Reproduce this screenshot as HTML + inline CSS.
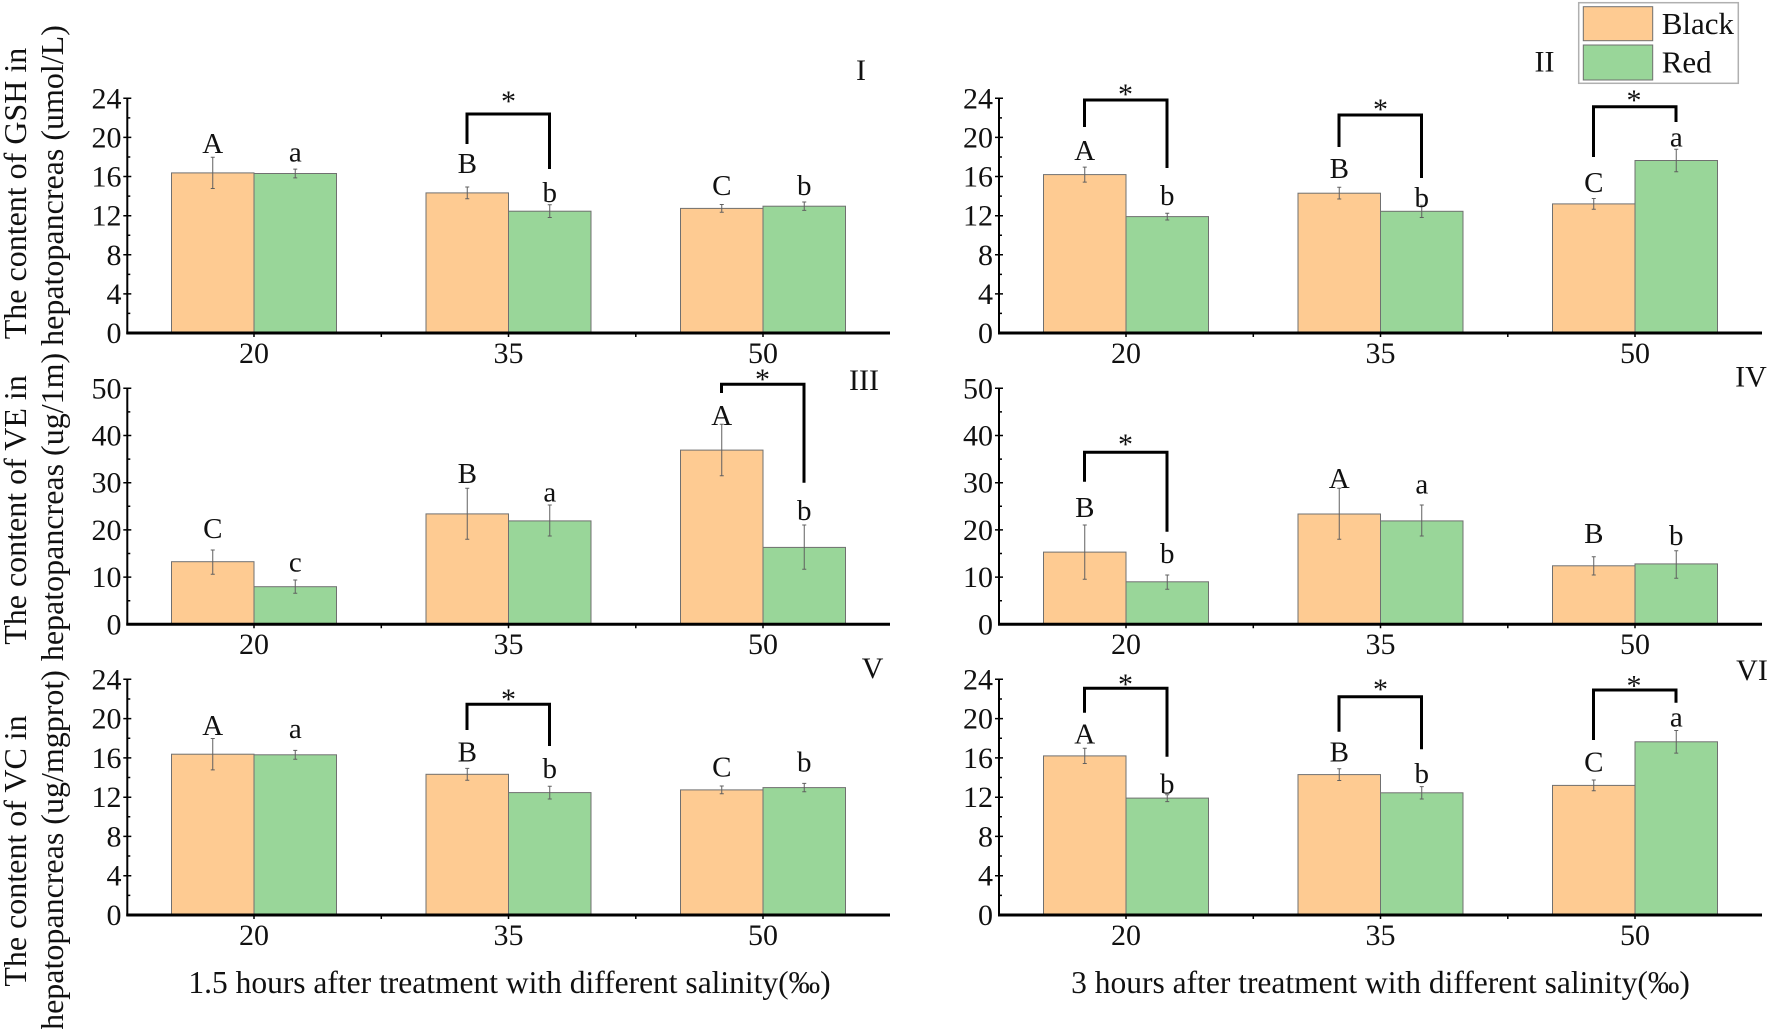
<!DOCTYPE html>
<html><head><meta charset="utf-8"><style>
html,body{margin:0;padding:0;background:#fff;}
svg{display:block;}
text{font-family:"Liberation Serif","Times New Roman",serif;fill:#111;}
.t{font-size:30px;}
.lb{font-size:29px;text-anchor:middle;}
.st{font-size:30px;text-anchor:middle;}
.yt{font-size:30px;text-anchor:end;}
.xt{font-size:30px;text-anchor:middle;}
.rn{font-size:30px;text-anchor:middle;}
.ttl{font-size:32px;text-anchor:middle;}
.xtl{font-size:31.5px;text-anchor:middle;}
.bk{fill:#fecb92;stroke:#707070;stroke-width:1;}
.gr{fill:#99d699;stroke:#707070;stroke-width:1;}
.eb{stroke:#606060;stroke-width:1;fill:none;}
.br{stroke:#000;stroke-width:3;fill:none;}
.ax{stroke:#000;fill:none;}
</style></head><body>
<svg width="1772" height="1029" viewBox="0 0 1772 1029" xmlns="http://www.w3.org/2000/svg">
<rect x="0" y="0" width="1772" height="1029" fill="#fff"/>

<!-- Y titles -->
<text class="ttl" transform="translate(26,193.5) rotate(-90)">The content of GSH in</text>
<text class="ttl" transform="translate(63,185.5) rotate(-90)">hepatopancreas (umol/L)</text>
<text class="ttl" transform="translate(26,510) rotate(-90)">The content of VE in</text>
<text class="ttl" transform="translate(63,507) rotate(-90)">hepatopancreas (ug/1m)</text>
<text class="ttl" transform="translate(26,851) rotate(-90)">The content of VC in</text>
<text class="ttl" transform="translate(63,850) rotate(-90)">hepatopancreas (ug/mgprot)</text>

<!-- X titles -->
<text class="xtl" x="509.5" y="993">1.5 hours after treatment with different salinity(‰)</text>
<text class="xtl" x="1380.5" y="993">3 hours after treatment with different salinity(‰)</text>

<!-- Legend -->
<rect x="1578.7" y="2.7" width="159.6" height="80.6" fill="#fff" stroke="#b0b0b0" stroke-width="1.5"/>
<rect x="1583.3" y="6.7" width="69.4" height="34" class="bk" stroke="#666"/>
<rect x="1583.3" y="45" width="69.4" height="35" class="gr" stroke="#666"/>
<text class="t" x="1661.7" y="34" style="font-size:31px">Black</text>
<text class="t" x="1661.7" y="72.7" style="font-size:31px">Red</text>

<!-- Roman numerals -->
<text class="rn" x="861" y="80">I</text>
<text class="rn" x="1544.5" y="71.7">II</text>
<text class="rn" x="864" y="390">III</text>
<text class="rn" x="1751" y="386.7">IV</text>
<text class="rn" x="872.6" y="678">V</text>
<text class="rn" x="1752" y="680">VI</text>

<!-- ============ PANEL I ============ -->
<g>
<rect class="bk" x="171.5" y="172.9" width="82.5" height="160.1"/>
<rect class="gr" x="254" y="173.5" width="82.5" height="159.5"/>
<rect class="bk" x="426" y="192.9" width="82.5" height="140.1"/>
<rect class="gr" x="508.5" y="211.2" width="82.5" height="121.8"/>
<rect class="bk" x="680.5" y="208.4" width="82.5" height="124.6"/>
<rect class="gr" x="763" y="206.2" width="82.5" height="126.8"/>
<path class="eb" d="M212.75 157.2V188.5M210.75 157.2h4M210.75 188.5h4
M295.25 169.1V177.9M293.25 169.1h4M293.25 177.9h4
M467.25 187V198.8M465.25 187h4M465.25 198.8h4
M549.75 204.8V217.5M547.75 204.8h4M547.75 217.5h4
M721.75 204.5V212.3M719.75 204.5h4M719.75 212.3h4
M804.25 202V210.4M802.25 202h4M802.25 210.4h4"/>
<path class="br" d="M467 144V114H549.5V169"/>
<text class="st" x="508.5" y="111">*</text>
<text class="lb" x="212.75" y="153">A</text>
<text class="lb" x="295.25" y="161.5">a</text>
<text class="lb" x="467.25" y="173">B</text>
<text class="lb" x="549.75" y="202">b</text>
<text class="lb" x="721.75" y="195">C</text>
<text class="lb" x="804.25" y="195">b</text>
<path class="ax" stroke-width="2" d="M127.3 98.3V334"/>
<path class="ax" stroke-width="3" d="M126.3 333H890"/>
<path class="ax" stroke-width="1.5" d="M123.3 98.3h8M123.3 137.4h8M123.3 176.5h8M123.3 215.7h8M123.3 254.8h8M123.3 293.9h8
M127.3 117.9h3M127.3 157h3M127.3 196.1h3M127.3 235.2h3M127.3 274.4h3M127.3 313.4h3
M254 333v4M381.3 333v4M508.5 333v4M635.8 333v4M763 333v4"/>
<text class="yt" x="121.5" y="108.3">24</text>
<text class="yt" x="121.5" y="147.4">20</text>
<text class="yt" x="121.5" y="186.5">16</text>
<text class="yt" x="121.5" y="225.7">12</text>
<text class="yt" x="121.5" y="264.8">8</text>
<text class="yt" x="121.5" y="303.9">4</text>
<text class="yt" x="121.5" y="343">0</text>
<text class="xt" x="254" y="363">20</text>
<text class="xt" x="508.5" y="363">35</text>
<text class="xt" x="763" y="363">50</text>
</g>

<!-- ============ PANEL II ============ -->
<g>
<rect class="bk" x="1043.5" y="174.6" width="82.5" height="158.4"/>
<rect class="gr" x="1126" y="216.6" width="82.5" height="116.4"/>
<rect class="bk" x="1298" y="193.2" width="82.5" height="139.8"/>
<rect class="gr" x="1380.5" y="211.3" width="82.5" height="121.7"/>
<rect class="bk" x="1552.5" y="203.9" width="82.5" height="129.1"/>
<rect class="gr" x="1635" y="160.5" width="82.5" height="172.5"/>
<path class="eb" d="M1084.75 167.1V182.1M1082.75 167.1h4M1082.75 182.1h4
M1167.25 213.2V220M1165.25 213.2h4M1165.25 220h4
M1339.25 187.3V199M1337.25 187.3h4M1337.25 199h4
M1421.75 205.2V217.5M1419.75 205.2h4M1419.75 217.5h4
M1593.75 198.5V209.3M1591.75 198.5h4M1591.75 209.3h4
M1676.25 149.3V171.8M1674.25 149.3h4M1674.25 171.8h4"/>
<path class="br" d="M1084.5 127V100H1167V168"/>
<text class="st" x="1125.5" y="104">*</text>
<path class="br" d="M1339 147V115H1421.5V178"/>
<text class="st" x="1380.5" y="119">*</text>
<path class="br" d="M1593.5 157V106.7H1676V122"/>
<text class="st" x="1634" y="110">*</text>
<text class="lb" x="1084.75" y="160">A</text>
<text class="lb" x="1167.25" y="205">b</text>
<text class="lb" x="1339.25" y="178">B</text>
<text class="lb" x="1421.75" y="207">b</text>
<text class="lb" x="1593.75" y="192">C</text>
<text class="lb" x="1676.25" y="146.5">a</text>
<path class="ax" stroke-width="2" d="M999 98.3V334"/>
<path class="ax" stroke-width="3" d="M998 333H1762"/>
<path class="ax" stroke-width="1.5" d="M995 98.3h8M995 137.4h8M995 176.5h8M995 215.7h8M995 254.8h8M995 293.9h8
M999 117.9h3M999 157h3M999 196.1h3M999 235.2h3M999 274.4h3M999 313.4h3
M1126 333v4M1253.3 333v4M1380.5 333v4M1507.8 333v4M1635 333v4"/>
<text class="yt" x="993" y="108.3">24</text>
<text class="yt" x="993" y="147.4">20</text>
<text class="yt" x="993" y="186.5">16</text>
<text class="yt" x="993" y="225.7">12</text>
<text class="yt" x="993" y="264.8">8</text>
<text class="yt" x="993" y="303.9">4</text>
<text class="yt" x="993" y="343">0</text>
<text class="xt" x="1126" y="363">20</text>
<text class="xt" x="1380.5" y="363">35</text>
<text class="xt" x="1635" y="363">50</text>
</g>

<!-- ============ PANEL III ============ -->
<g>
<rect class="bk" x="171.5" y="561.7" width="82.5" height="62.6"/>
<rect class="gr" x="254" y="586.7" width="82.5" height="37.6"/>
<rect class="bk" x="426" y="513.9" width="82.5" height="110.4"/>
<rect class="gr" x="508.5" y="520.9" width="82.5" height="103.4"/>
<rect class="bk" x="680.5" y="450.1" width="82.5" height="174.2"/>
<rect class="gr" x="763" y="547.4" width="82.5" height="76.9"/>
<path class="eb" d="M212.75 550V574.3M210.75 550h4M210.75 574.3h4
M295.25 580V593.3M293.25 580h4M293.25 593.3h4
M467.25 488.3V539.3M465.25 488.3h4M465.25 539.3h4
M549.75 505V536M547.75 505h4M547.75 536h4
M721.75 424.3V475.7M719.75 424.3h4M719.75 475.7h4
M804.25 525V569.3M802.25 525h4M802.25 569.3h4"/>
<path class="br" d="M721.5 393V384.3H804V482.7"/>
<text class="st" x="762.5" y="389">*</text>
<text class="lb" x="212.75" y="538">C</text>
<text class="lb" x="295.25" y="571.5">c</text>
<text class="lb" x="467.25" y="483">B</text>
<text class="lb" x="549.75" y="501.5">a</text>
<text class="lb" x="721.75" y="425">A</text>
<text class="lb" x="804.25" y="520">b</text>
<path class="ax" stroke-width="2" d="M127.3 388.3V625.3"/>
<path class="ax" stroke-width="3" d="M126.3 624.3H890"/>
<path class="ax" stroke-width="1.5" d="M123.3 388.3h8M123.3 435.5h8M123.3 482.7h8M123.3 529.9h8M123.3 577.1h8
M127.3 411.9h3M127.3 459.1h3M127.3 506.3h3M127.3 553.5h3M127.3 600.7h3
M254 624.3v4M381.3 624.3v4M508.5 624.3v4M635.8 624.3v4M763 624.3v4"/>
<text class="yt" x="121.5" y="398.3">50</text>
<text class="yt" x="121.5" y="445.5">40</text>
<text class="yt" x="121.5" y="492.7">30</text>
<text class="yt" x="121.5" y="539.9">20</text>
<text class="yt" x="121.5" y="587.1">10</text>
<text class="yt" x="121.5" y="634.3">0</text>
<text class="xt" x="254" y="654">20</text>
<text class="xt" x="508.5" y="654">35</text>
<text class="xt" x="763" y="654">50</text>
</g>

<!-- ============ PANEL IV ============ -->
<g>
<rect class="bk" x="1043.5" y="552.1" width="82.5" height="72.2"/>
<rect class="gr" x="1126" y="581.8" width="82.5" height="42.5"/>
<rect class="bk" x="1298" y="514" width="82.5" height="110.3"/>
<rect class="gr" x="1380.5" y="520.9" width="82.5" height="103.4"/>
<rect class="bk" x="1552.5" y="565.8" width="82.5" height="58.5"/>
<rect class="gr" x="1635" y="563.9" width="82.5" height="60.4"/>
<path class="eb" d="M1084.75 525V579.3M1082.75 525h4M1082.75 579.3h4
M1167.25 575V589.3M1165.25 575h4M1165.25 589.3h4
M1339.25 488.3V539.3M1337.25 488.3h4M1337.25 539.3h4
M1421.75 505V536M1419.75 505h4M1419.75 536h4
M1593.75 556.7V575M1591.75 556.7h4M1591.75 575h4
M1676.25 550.7V578.3M1674.25 550.7h4M1674.25 578.3h4"/>
<path class="br" d="M1084.5 481.7V452.3H1167V531.7"/>
<text class="st" x="1125.5" y="454">*</text>
<text class="lb" x="1084.75" y="517">B</text>
<text class="lb" x="1167.25" y="563">b</text>
<text class="lb" x="1339.25" y="488">A</text>
<text class="lb" x="1421.75" y="493.5">a</text>
<text class="lb" x="1593.75" y="543">B</text>
<text class="lb" x="1676.25" y="545">b</text>
<path class="ax" stroke-width="2" d="M999 388.3V625.3"/>
<path class="ax" stroke-width="3" d="M998 624.3H1762"/>
<path class="ax" stroke-width="1.5" d="M995 388.3h8M995 435.5h8M995 482.7h8M995 529.9h8M995 577.1h8
M999 411.9h3M999 459.1h3M999 506.3h3M999 553.5h3M999 600.7h3
M1126 624.3v4M1253.3 624.3v4M1380.5 624.3v4M1507.8 624.3v4M1635 624.3v4"/>
<text class="yt" x="993" y="398.3">50</text>
<text class="yt" x="993" y="445.5">40</text>
<text class="yt" x="993" y="492.7">30</text>
<text class="yt" x="993" y="539.9">20</text>
<text class="yt" x="993" y="587.1">10</text>
<text class="yt" x="993" y="634.3">0</text>
<text class="xt" x="1126" y="654">20</text>
<text class="xt" x="1380.5" y="654">35</text>
<text class="xt" x="1635" y="654">50</text>
</g>

<!-- ============ PANEL V ============ -->
<g>
<rect class="bk" x="171.5" y="754.2" width="82.5" height="160.8"/>
<rect class="gr" x="254" y="754.8" width="82.5" height="160.2"/>
<rect class="bk" x="426" y="774.3" width="82.5" height="140.7"/>
<rect class="gr" x="508.5" y="792.6" width="82.5" height="122.4"/>
<rect class="bk" x="680.5" y="789.9" width="82.5" height="125.1"/>
<rect class="gr" x="763" y="787.6" width="82.5" height="127.4"/>
<path class="eb" d="M212.75 738.5V769.9M210.75 738.5h4M210.75 769.9h4
M295.25 750.4V759.2M293.25 750.4h4M293.25 759.2h4
M467.25 768.4V780.2M465.25 768.4h4M465.25 780.2h4
M549.75 786.2V799M547.75 786.2h4M547.75 799h4
M721.75 786V793.8M719.75 786h4M719.75 793.8h4
M804.25 783.4V791.8M802.25 783.4h4M802.25 791.8h4"/>
<path class="br" d="M467 730V704.3H549.5V746"/>
<text class="st" x="508.5" y="709">*</text>
<text class="lb" x="212.75" y="735">A</text>
<text class="lb" x="295.25" y="738">a</text>
<text class="lb" x="467.25" y="761.7">B</text>
<text class="lb" x="549.75" y="778">b</text>
<text class="lb" x="721.75" y="776.7">C</text>
<text class="lb" x="804.25" y="771.7">b</text>
<path class="ax" stroke-width="2" d="M127.3 679.3V916"/>
<path class="ax" stroke-width="3" d="M126.3 915H890"/>
<path class="ax" stroke-width="1.5" d="M123.3 679.3h8M123.3 718.6h8M123.3 757.9h8M123.3 797.2h8M123.3 836.4h8M123.3 875.7h8
M127.3 699h3M127.3 738.3h3M127.3 777.5h3M127.3 816.8h3M127.3 856h3M127.3 895.4h3
M254 915v4M381.3 915v4M508.5 915v4M635.8 915v4M763 915v4"/>
<text class="yt" x="121.5" y="689.3">24</text>
<text class="yt" x="121.5" y="728.6">20</text>
<text class="yt" x="121.5" y="767.9">16</text>
<text class="yt" x="121.5" y="807.2">12</text>
<text class="yt" x="121.5" y="846.4">8</text>
<text class="yt" x="121.5" y="885.7">4</text>
<text class="yt" x="121.5" y="925">0</text>
<text class="xt" x="254" y="945">20</text>
<text class="xt" x="508.5" y="945">35</text>
<text class="xt" x="763" y="945">50</text>
</g>

<!-- ============ PANEL VI ============ -->
<g>
<rect class="bk" x="1043.5" y="755.9" width="82.5" height="159.1"/>
<rect class="gr" x="1126" y="798.1" width="82.5" height="116.9"/>
<rect class="bk" x="1298" y="774.6" width="82.5" height="140.4"/>
<rect class="gr" x="1380.5" y="792.8" width="82.5" height="122.2"/>
<rect class="bk" x="1552.5" y="785.4" width="82.5" height="129.6"/>
<rect class="gr" x="1635" y="741.8" width="82.5" height="173.2"/>
<path class="eb" d="M1084.75 748.3V763.5M1082.75 748.3h4M1082.75 763.5h4
M1167.25 794.7V801.6M1165.25 794.7h4M1165.25 801.6h4
M1339.25 768.7V780.5M1337.25 768.7h4M1337.25 780.5h4
M1421.75 786.6V799M1419.75 786.6h4M1419.75 799h4
M1593.75 780V790.8M1591.75 780h4M1591.75 790.8h4
M1676.25 730.5V753.1M1674.25 730.5h4M1674.25 753.1h4"/>
<path class="br" d="M1084.5 712.7V688.3H1167V756.7"/>
<text class="st" x="1125.5" y="694">*</text>
<path class="br" d="M1339 731.7V696.7H1421.5V749.3"/>
<text class="st" x="1380.5" y="699">*</text>
<path class="br" d="M1593.5 740V690H1676V702.7"/>
<text class="st" x="1634" y="695.7">*</text>
<text class="lb" x="1084.75" y="743.3">A</text>
<text class="lb" x="1167.25" y="793.3">b</text>
<text class="lb" x="1339.25" y="761.7">B</text>
<text class="lb" x="1421.75" y="783">b</text>
<text class="lb" x="1593.75" y="771.7">C</text>
<text class="lb" x="1676.25" y="726.5">a</text>
<path class="ax" stroke-width="2" d="M999 679.3V916"/>
<path class="ax" stroke-width="3" d="M998 915H1762"/>
<path class="ax" stroke-width="1.5" d="M995 679.3h8M995 718.6h8M995 757.9h8M995 797.2h8M995 836.4h8M995 875.7h8
M999 699h3M999 738.3h3M999 777.5h3M999 816.8h3M999 856h3M999 895.4h3
M1126 915v4M1253.3 915v4M1380.5 915v4M1507.8 915v4M1635 915v4"/>
<text class="yt" x="993" y="689.3">24</text>
<text class="yt" x="993" y="728.6">20</text>
<text class="yt" x="993" y="767.9">16</text>
<text class="yt" x="993" y="807.2">12</text>
<text class="yt" x="993" y="846.4">8</text>
<text class="yt" x="993" y="885.7">4</text>
<text class="yt" x="993" y="925">0</text>
<text class="xt" x="1126" y="945">20</text>
<text class="xt" x="1380.5" y="945">35</text>
<text class="xt" x="1635" y="945">50</text>
</g>
</svg>
</body></html>
